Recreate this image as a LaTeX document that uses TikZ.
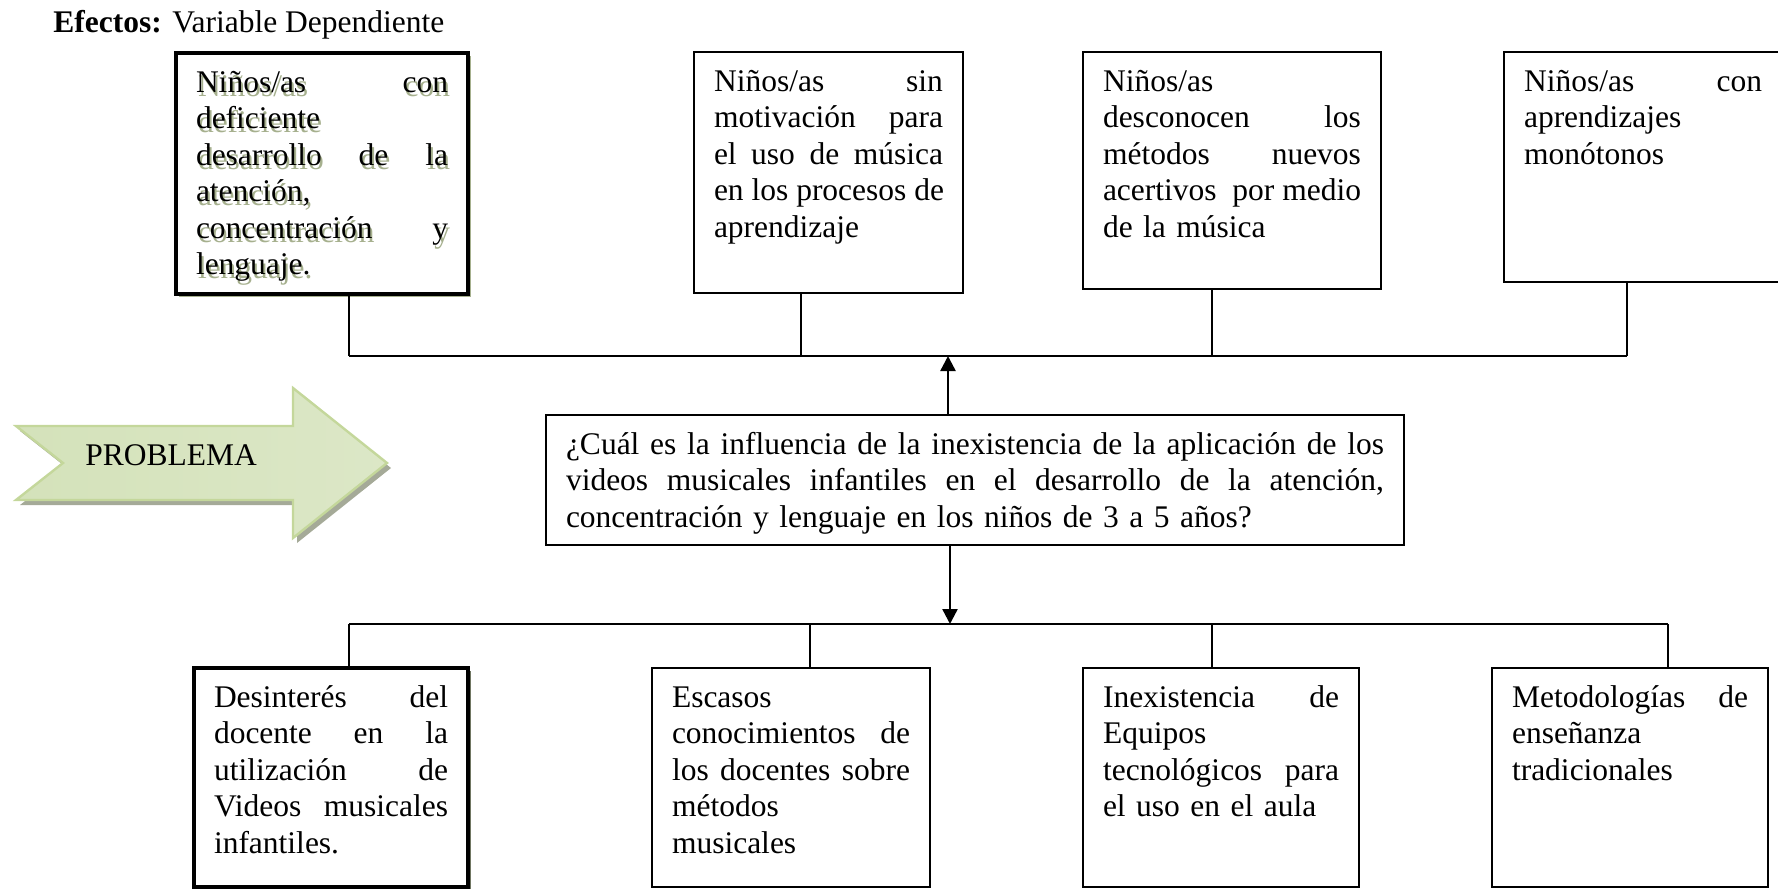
\documentclass[tikz,border=0pt]{standalone}
\usepackage{fontspec}
\setmainfont{Liberation Serif}
\usetikzlibrary{arrows.meta,shadows}
\definecolor{shadeA}{RGB}{166,176,142}
\definecolor{shadeB}{RGB}{112,118,98}
\definecolor{probedge}{RGB}{196,215,155}
\definecolor{probdark}{RGB}{212,226,186}
\definecolor{problight}{RGB}{238,243,228}
\definecolor{probshade}{RGB}{165,170,152}
\newcommand{\boxfont}{\fontsize{15.75pt}{18.25pt}\selectfont}
\newcommand{\jl}[1]{\leavevmode\hbox to \hsize{\spaceskip=.25em plus 1fil\relax #1}}
\newcommand{\atencion}{\jl{Niños/as con}\\ deficiente\\ \jl{desarrollo de la}\\
  atención,\\ \jl{concentración y}\\ lenguaje.}

\begin{document}
\begin{tikzpicture}[x=0.5pt, y=-0.5pt,
  box/.style={draw, line width=1pt, fill=white, anchor=north west, align=left,
    inner xsep=10pt, inner ysep=4pt, outer sep=0pt, text height=15.5pt,
    font=\boxfont},
  label/.style={anchor=base west, inner sep=0pt, font=\boxfont},
  heavy/.style={line width=1.6pt},
  link/.style={line width=1pt},
  arrow/.style={-{Triangle[length=7.5pt,width=7.5pt]}, line width=1.2pt}]
\useasboundingbox (0,0) rectangle (1778,889);
\node[label] (efectos) at (53,32) {\textbf{Efectos:} Variable Dependiente};
% efectos
\node[fill=white, anchor=north west, minimum width=146pt, minimum height=120.5pt,
  inner sep=0pt, outer sep=0pt,
  drop shadow={shadow xshift=1.5pt, shadow yshift=-1.5pt, fill=shadeA, opacity=1}]
  (e1back) at (176,53) {};
\node[box, draw=none, fill=none, text=shadeA, text width=126pt, text depth=97pt]
  (e1shade) at (178,57) {\atencion};
\node[box, heavy, fill=none, text width=126pt, text depth=97pt] (e1) at (176,53)
  {\atencion};
\node[box, text width=114.5pt, text depth=97pt] (e2) at (694,52)
  {\jl{Niños/as sin}\\ \jl{motivación para}\\ \jl{el uso de música}\\
  \jl{en los procesos de}\\ aprendizaje};
\node[box, text width=129pt, text depth=95pt] (e3) at (1083,52)
  {Niños/as\\ \jl{desconocen los}\\ \jl{métodos nuevos}\\
  \jl{acertivos\ \ por medio}\\ de la música};
\node[box, text width=119pt, text depth=91.5pt] (e4) at (1504,52)
  {\jl{Niños/as con}\\ aprendizajes\\ monótonos};
% problema
\fill[probshade, shift={(4,5)}] (16,426) -- (293,426) -- (293,388) -- (387,463)
  -- (293,538) -- (293,500) -- (16,500) -- (63,463) -- cycle;
\draw[probedge, line width=1.2pt, left color=probdark, middle color=problight,
  right color=probdark!70!problight] (16,426) -- (293,426) -- (293,388) -- (387,463)
  -- (293,538) -- (293,500) -- (16,500) -- (63,463) -- cycle;
\node[label] (prob) at (85,465) {PROBLEMA};
\node[box, text width=409pt, text depth=41.5pt] (q) at (546,415)
  {\jl{¿Cuál es la influencia de la inexistencia de la aplicación de los}\\
  \jl{videos musicales infantiles en el desarrollo de la atención,}\\
  concentración y lenguaje en los niños de 3 a 5 años?};
% causas
\node[box, heavy, text width=117pt, text depth=86pt,
  drop shadow={shadow xshift=1.5pt, shadow yshift=-1.5pt, fill=shadeB, opacity=1}]
  (c1) at (194,668)
  {\jl{Desinterés del}\\ \jl{docente en la}\\ \jl{utilización de}\\
  \jl{Videos musicales}\\ infantiles.};
\node[box, text width=119pt, text depth=86pt] (c2) at (652,668)
  {Escasos\\ \jl{conocimientos\ \ de}\\ \jl{los docentes sobre}\\ métodos\\ musicales};
\node[box, text width=118pt, text depth=86pt] (c3) at (1083,668)
  {\jl{Inexistencia de}\\ Equipos\\ \jl{tecnológicos\ \ para}\\ el uso en el aula};
\node[box, text width=118pt, text depth=86pt] (c4) at (1492,668)
  {\jl{Metodologías de}\\ enseñanza\\ tradicionales};
% buses
\coordinate (t1) at (349,356);
\coordinate (t2) at (801,356);
\coordinate (t3) at (1212,356);
\coordinate (t4) at (1627,356);
\coordinate (tup) at (948,356);
\coordinate (b1) at (349,624);
\coordinate (b2) at (810,624);
\coordinate (b3) at (1212,624);
\coordinate (b4) at (1668,624);
\coordinate (bdn) at (950,624);
\draw[link] (t1) -- (t4);
\draw[link] (t1 |- e1.south) -- (t1);
\draw[link] (t2 |- e2.south) -- (t2);
\draw[link] (t3 |- e3.south) -- (t3);
\draw[link] (t4 |- e4.south) -- (t4);
\draw[arrow] (tup |- q.north) -- (tup);
\draw[arrow] (bdn |- q.south) -- (bdn);
\draw[link] (b1) -- (b4);
\draw[link] (b1) -- (b1 |- c1.north);
\draw[link] (b2) -- (b2 |- c2.north);
\draw[link] (b3) -- (b3 |- c3.north);
\draw[link] (b4) -- (b4 |- c4.north);
\end{tikzpicture}
\end{document}
